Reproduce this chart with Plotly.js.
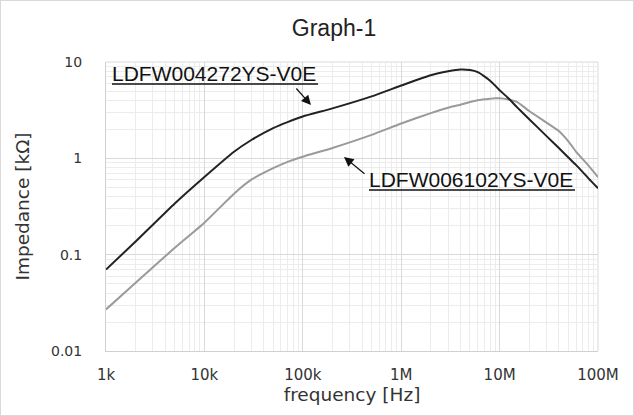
<!DOCTYPE html>
<html>
<head>
<meta charset="utf-8">
<script src="https://cdn.plot.ly/plotly-3.0.1.min.js"></script>
<style>
  html, body { margin: 0; padding: 0; background: #fff; }
  #wrap { position: relative; width: 634px; height: 416px; }
  #chart { width: 634px; height: 416px; }
  #frame { position: absolute; left: 0; top: 0; width: 632px; height: 414px; border: 1px solid #d9d9d9; pointer-events: none; }
</style>
</head>
<body>
<div id="wrap"><div id="chart"></div><div id="frame"></div></div>
<script>
// Frequencies [Hz]
const freq = [1e3, 2e3, 5e3, 1e4, 2e4, 3e4, 5e4, 7e4, 1e5, 2e5, 5e5, 1e6, 2e6, 3e6, 4e6, 5e6, 6e6, 7e6, 8e6, 9e6, 1e7, 1.2e7, 1.5e7, 2e7, 3e7, 4e7, 5e7, 6e7, 7e7, 8e7, 1e8];
// Impedance [kOhm] LDFW004272YS-V0E
const zBlack = [0.070, 0.137, 0.34, 0.64, 1.17, 1.55, 2.06, 2.38, 2.72, 3.3, 4.4, 5.7, 7.3, 8.0, 8.35, 8.25, 7.85, 7.1, 6.4, 5.7, 5.1, 4.3, 3.4, 2.55, 1.7, 1.28, 1.02, 0.85, 0.72, 0.62, 0.49];
// Impedance [kOhm] LDFW006102YS-V0E
const zGray = [0.027, 0.051, 0.118, 0.215, 0.43, 0.6, 0.79, 0.92, 1.04, 1.28, 1.75, 2.3, 2.95, 3.35, 3.6, 3.85, 4.0, 4.1, 4.15, 4.2, 4.2, 4.1, 3.85, 3.1, 2.35, 1.92, 1.5, 1.17, 0.98, 0.84, 0.64];

const xTickVals = [1e3, 1e4, 1e5, 1e6, 1e7, 1e8];
const xTickText = ['1k', '10k', '100k', '1M', '10M', '100M'];
const yTickVals = [0.01, 0.1, 1, 10];
const yTickText = ['0.01', '0.1', '1', '10'];
const seriesNames = ['LDFW004272YS-V0E', 'LDFW006102YS-V0E'];

const fam = 'DejaVu Sans, Verdana, sans-serif';

const traces = [
  { x: freq, y: zGray, type: 'scatter', mode: 'lines', name: seriesNames[1],
    line: { color: '#9a9a9a', width: 2, shape: 'spline', smoothing: 0.5 }, hoverinfo: 'skip' },
  { x: freq, y: zBlack, type: 'scatter', mode: 'lines', name: seriesNames[0],
    line: { color: '#222222', width: 2, shape: 'spline', smoothing: 0.5 }, hoverinfo: 'skip' }
];

const L = 106, R = 598, T = 62, B = 351;
function px(p) { return (p - L) / (R - L); }
function py(p) { return (B - p) / (B - T); }

const layout = {
  width: 634, height: 416,
  margin: { l: L, r: 634 - R, t: T, b: 416 - B, pad: 0 },
  paper_bgcolor: '#fff', plot_bgcolor: '#fff',
  showlegend: false,
  title: { text: 'Graph-1', font: { family: 'Liberation Sans, Arial, sans-serif', size: 23, color: '#222' },
           x: 334 / 634, xanchor: 'center', y: 1 - 28 / 416, yanchor: 'middle', xref: 'container', yref: 'container' },
  xaxis: {
    type: 'log', range: [3, 8], automargin: false,
    tickvals: xTickVals, ticktext: xTickText, tickfont: { family: fam, size: 15, color: '#333' },
    ticks: 'outside', ticklen: 10, tickcolor: 'rgba(0,0,0,0)',
    showgrid: true, gridcolor: '#d9d9d9', gridwidth: 1,
    minor: { dtick: 'D1', showgrid: true, gridcolor: '#ececec', gridwidth: 1, ticks: '' },
    showline: true, linecolor: '#d0d0d0', linewidth: 1,
    zeroline: false,
    title: { text: 'frequency [Hz]', font: { family: fam, size: 18.5, color: '#333' }, standoff: 0 }
  },
  yaxis: {
    type: 'log', range: [-2, 1], automargin: false,
    tickvals: yTickVals, ticktext: yTickText, tickfont: { family: fam, size: 14, color: '#333' },
    ticks: 'outside', ticklen: 20, tickcolor: 'rgba(0,0,0,0)',
    showgrid: true, gridcolor: '#d9d9d9', gridwidth: 1,
    minor: { dtick: 'D1', showgrid: true, gridcolor: '#ececec', gridwidth: 1, ticks: '' },
    showline: true, linecolor: '#d0d0d0', linewidth: 1,
    zeroline: false,
    title: { text: 'Impedance [kΩ]', font: { family: fam, size: 18.5, color: '#333' }, standoff: 16 }
  },
  annotations: [
    { xref: 'paper', yref: 'paper', x: px(111), y: py(73), xanchor: 'left', yanchor: 'middle',
      text: seriesNames[0], showarrow: false, borderpad: 0,
      font: { family: 'Liberation Sans, Arial, sans-serif', size: 21, color: '#111' } },
    { xref: 'paper', yref: 'paper', x: px(368), y: py(179), xanchor: 'left', yanchor: 'middle',
      text: seriesNames[1], showarrow: false, borderpad: 0,
      font: { family: 'Liberation Sans, Arial, sans-serif', size: 21, color: '#111' } },
    { xref: 'paper', yref: 'paper', x: px(311), y: py(105), text: '', showarrow: true,
      ax: -16, ay: -18, arrowhead: 2, arrowsize: 1.6, arrowwidth: 1.2, arrowcolor: '#111' },
    { xref: 'paper', yref: 'paper', x: px(344), y: py(157), text: '', showarrow: true,
      ax: 22, ay: 18, arrowhead: 2, arrowsize: 1.6, arrowwidth: 1.2, arrowcolor: '#111' }
  ],
  shapes: [
    { type: 'line', xref: 'paper', yref: 'paper', x0: px(112), x1: px(318), y0: py(84), y1: py(84), line: { color: '#111', width: 1.5 } },
    { type: 'line', xref: 'paper', yref: 'paper', x0: px(369), x1: px(575), y0: py(190), y1: py(190), line: { color: '#111', width: 1.5 } },
    { type: 'line', xref: 'paper', yref: 'paper', x0: 0, x1: 1, y0: 1, y1: 1, line: { color: '#d9d9d9', width: 1 }, layer: 'below' },
    { type: 'line', xref: 'paper', yref: 'paper', x0: 1, x1: 1, y0: 0, y1: 1, line: { color: '#d9d9d9', width: 1 }, layer: 'below' }
  ]
};

Plotly.newPlot('chart', traces, layout, { staticPlot: true, displayModeBar: false });
</script>
</body>
</html>
